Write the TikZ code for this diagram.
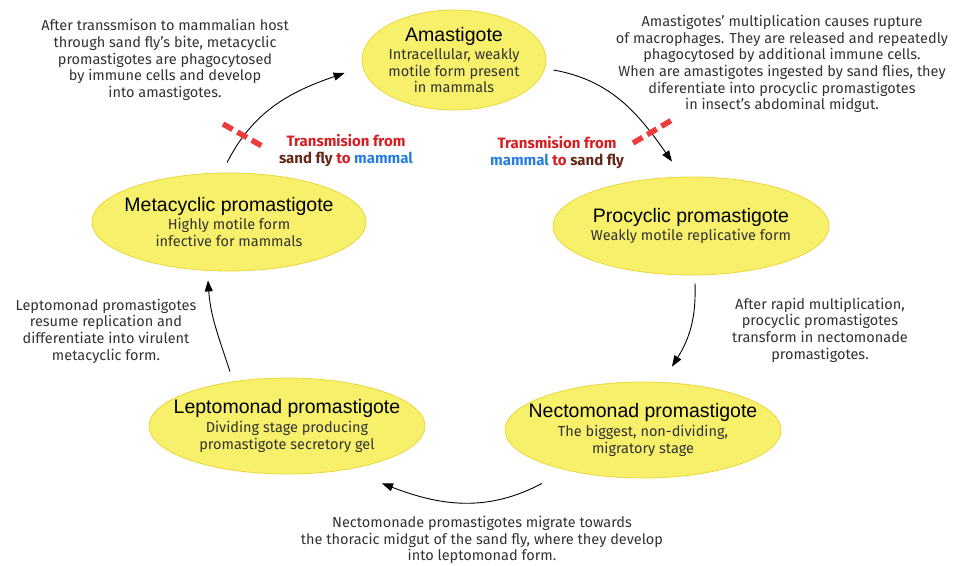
\documentclass[tikz,border=0pt]{standalone}
\usepackage{fontspec}
\setmainfont{Fira Sans}
\newfontfamily\titlefont{Liberation Sans}
\usepackage{xcolor}
\usepackage{tikz}
\usetikzlibrary{shapes.geometric,arrows.meta,calc}
\definecolor{stageyellow}{RGB}{247,240,106}
\definecolor{stageborder}{RGB}{236,214,60}
\definecolor{hostred}{RGB}{215,30,35}
\definecolor{flybrown}{RGB}{100,40,25}
\definecolor{mammalblue}{RGB}{40,125,225}
\definecolor{dashred}{RGB}{236,60,60}
\definecolor{notegray}{RGB}{50,50,50}
\newcommand{\stagetitle}[1]{{\titlefont\fontsize{19.5}{21}\selectfont\color{black}#1}\\[2pt]}

\begin{document}
\begin{tikzpicture}[x=1pt,y=1pt,
    stage/.style={ellipse,draw=stageborder,fill=stageyellow,line width=0.8pt,
      align=center,inner xsep=-60pt,inner ysep=-30pt,text=notegray,font=\fontsize{14.5}{16.6}\selectfont},
    note/.style={align=center,text=notegray,font=\fontsize{14.5}{16.6}\selectfont},
    hostlabel/.style={align=center,font=\bfseries\fontsize{15}{17}\selectfont},
    cycle/.style={-{Triangle[length=11pt,width=8pt]},line width=0.9pt},
    cut/.style={dashred,line width=5.5pt,dash pattern=on 11pt off 5.5pt}]
  \useasboundingbox (0,0) rectangle (955,-565);
  % life stages
  \node[stage,minimum width=184,minimum height=100] (ama) at (454,-60)
    {\stagetitle{Amastigote}Intracellular, weakly\\motile form present\\in mammals};
  \node[stage,minimum width=276,minimum height=98] (pro) at (691,-226)
    {\stagetitle{Procyclic promastigote}Weakly motile replicative form};
  \node[stage,minimum width=276,minimum height=96] (nec) at (643,-430)
    {\stagetitle{Nectomonad promastigote}The biggest, non-dividing,\\migratory stage};
  \node[stage,minimum width=276,minimum height=96] (lep) at (287,-426)
    {\stagetitle{Leptomonad promastigote}Dividing stage producing\\promastigote secretory gel};
  \node[stage,minimum width=274,minimum height=98] (meta) at (229,-222)
    {\stagetitle{Metacyclic promastigote}Highly motile form\\infective for mammals};
  % notes
  \node[note] (n1) at (165,-60) {After transsmison to mammalian host\\through sand fly's bite, metacyclic\\promastigotes are phagocytosed\\by immune cells and develop\\into amastigotes.};
  \node[note] (n2) at (782,-64) {Amastigotes' multiplication causes rupture\\of macrophages. They are released and repeatedly\\phagocytosed by additional immune cells.\\When are amastigotes ingested by sand flies, they\\diferentiate into procyclic promastigotes\\in insect's abdominal midgut.};
  \node[note] (n3) at (820,-330) {After rapid multiplication,\\procyclic promastigotes\\transform in nectomonade\\promastigotes.};
  \node[note] (n4) at (482,-540) {Nectomonade promastigotes migrate towards\\the thoracic midgut of the sand fly, where they develop\\into leptomonad form.};
  \node[note] (n5) at (106,-331) {Leptomonad promastigotes\\resume replication and\\differentiate into virulent\\metacyclic form.};
  % transmission labels
  \node[hostlabel] (toMammal) at (346,-151)
    {\textcolor{hostred}{Transmision from}\\\textcolor{flybrown}{sand fly} \textcolor{hostred}{to} \textcolor{mammalblue}{mammal}};
  \node[hostlabel] (toFly) at (557,-153)
    {\textcolor{hostred}{Transmision from}\\\textcolor{mammalblue}{mammal} \textcolor{hostred}{to} \textcolor{flybrown}{sand fly}};
  % cycle
  \draw[cycle] ($(meta.north)+(-2,10)$) to[out=63,in=199] ($(ama.west)+(-17,-13)$);
  \draw[cycle] ($(ama.east)+(7,-10)$) to[out=-10,in=125] ($(pro.north)+(-19,15)$);
  \draw[cycle] ($(pro.south)+(4,-8)$) to[out=-88,in=58] ($(nec.north)+(29,15)$);
  \draw[cycle] ($(nec.south)+(-101,-5)$) to[out=208,in=-21] ($(lep.south)+(95,-9)$);
  \draw[cycle] ($(lep.north)+(-57,6)$) to[out=108,in=-86] ($(meta.south)+(-21,-9)$);
  % host barriers
  \draw[cut] (223,-124) -- (262,-146);
  \draw[cut] (633,-143) -- (672,-120);
\end{tikzpicture}
\end{document}
